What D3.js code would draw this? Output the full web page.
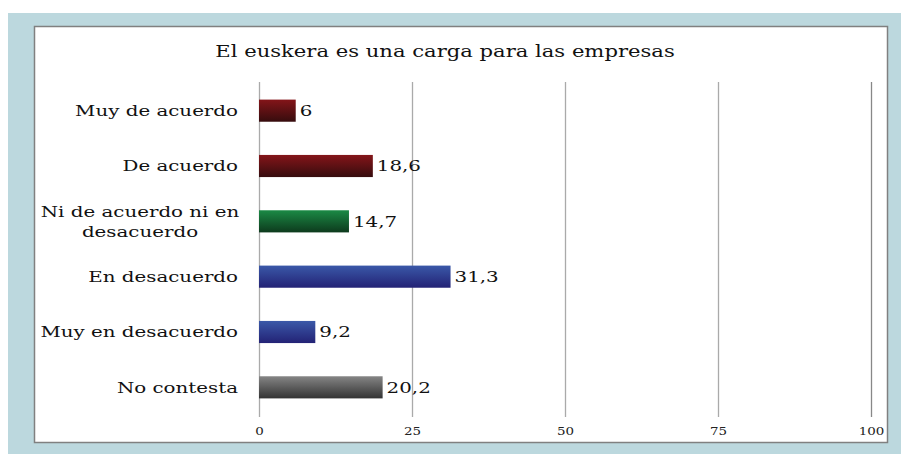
<!DOCTYPE html>
<html><head><meta charset="utf-8">
<script src="https://cdnjs.cloudflare.com/ajax/libs/d3/7.8.5/d3.min.js"></script>
<style>body{margin:0;background:#fff}svg{display:block}</style>
</head><body>
<script>
const title = "El euskera es una carga para las empresas";
const categories = [["Muy de acuerdo"],["De acuerdo"],["Ni de acuerdo ni en","desacuerdo"],["En desacuerdo"],["Muy en desacuerdo"],["No contesta"]];
const values = [6, 18.6, 14.7, 31.3, 9.2, 20.2];
const valueLabels = ["6","18,6","14,7","31,3","9,2","20,2"];
const colorGroups = ["red","red","green","blue","blue","gray"];
const ticks = [0,25,50,75,100];

const W=901,H=454, SX=1.28;
const svg=d3.select("body").append("svg").attr("width",W).attr("height",H);
const defs=svg.append("defs");
const grads={red:["#841519","#360c0e"],green:["#1b8a45","#0d3a1d"],blue:["#3a58a8","#232275"],gray:["#858585","#333333"]};
Object.entries(grads).forEach(([k,c])=>{
  const g=defs.append("linearGradient").attr("id","g-"+k).attr("x1",0).attr("y1",0).attr("x2",0).attr("y2",1);
  g.append("stop").attr("offset","0%").attr("stop-color",c[0]);
  g.append("stop").attr("offset","100%").attr("stop-color",c[1]);
});
svg.append("rect").attr("x",8).attr("y",13).attr("width",W-8).attr("height",H-13).attr("fill","#bcd8de");
svg.append("rect").attr("x",34.5).attr("y",26.5).attr("width",853).attr("height",416).attr("fill","#fff").attr("stroke","#808080").attr("stroke-width",1.5);

const font="DejaVu Serif";
function stext(parent,x,y,anchor,size){
  return parent.append("text").attr("transform",`translate(${x},${y}) scale(${SX},1)`)
    .attr("text-anchor",anchor).attr("font-family",font).attr("font-size",size).attr("fill","#111");
}
stext(svg,445,57,"middle",16.5).text(title);

const x=d3.scaleLinear().domain([0,100]).range([259,871]);
const y=d3.scaleBand().domain(d3.range(categories.length)).range([83,415]).paddingInner(0.6).paddingOuter(0.3);

const grid=svg.append("g");
grid.selectAll("line").data(ticks).join("line")
  .attr("x1",d=>Math.round(x(d))+0.5).attr("x2",d=>Math.round(x(d))+0.5)
  .attr("y1",82).attr("y2",417).attr("stroke",d=>d===100?"#888":"#aaa").attr("stroke-width",1.3);

const axis=d3.axisBottom(x).tickValues(ticks).tickSize(0).tickPadding(0);
const ag=svg.append("g").attr("transform","translate(0,428)").call(axis);
ag.select(".domain").remove();
ag.selectAll("text").attr("font-family",font).attr("font-size",10.5).attr("fill","#222").attr("dy","0.71em")
  .attr("transform",`scale(${SX},1)`);

svg.append("g").selectAll("rect").data(values).join("rect")
  .attr("x",x(0)).attr("y",(d,i)=>y(i)).attr("width",d=>x(d)-x(0)).attr("height",y.bandwidth())
  .attr("fill",(d,i)=>"url(#g-"+colorGroups[i]+")");

const vl=svg.append("g");
values.forEach((d,i)=>{
  stext(vl,x(d)+4,y(i)+y.bandwidth()/2,"start",15.5).attr("dy","0.35em").text(valueLabels[i]);
});

const cg=svg.append("g");
categories.forEach((d,i)=>{
  const cy=y(i)+y.bandwidth()/2;
  if(d.length===1){
    stext(cg,238,cy,"end",15.5).attr("dy","0.35em").text(d[0]);
  } else {
    d.forEach((line,j)=>{
      stext(cg,140,cy,"middle",15.5).attr("dy",(j===0?-0.3:1.0)+"em").text(line);
    });
  }
});
</script>
</body></html>
